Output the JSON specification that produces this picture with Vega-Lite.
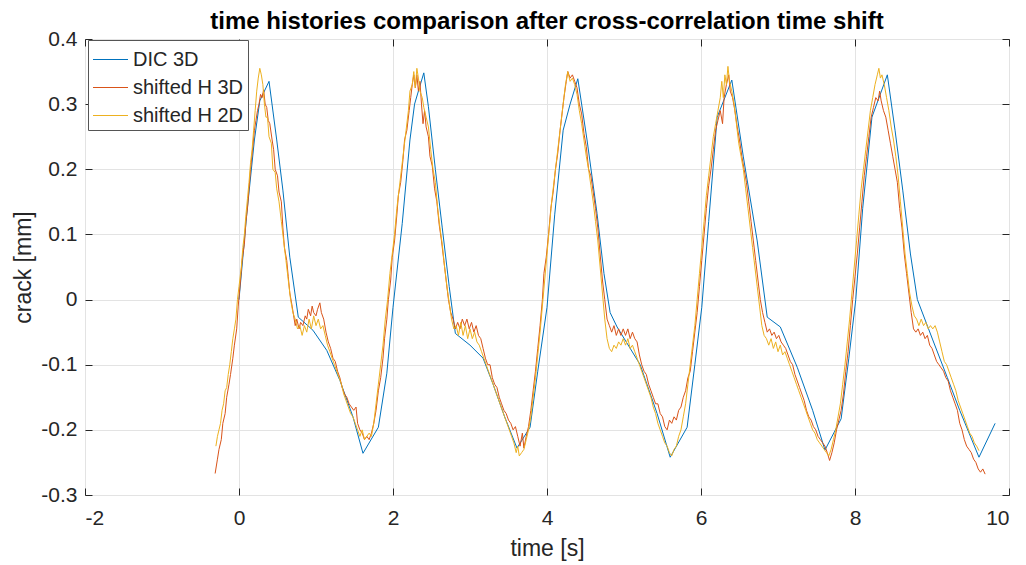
{
"$schema":"https://vega.github.io/schema/vega-lite/v6.json",
"width":924,"height":456,
"autosize":{"type":"none"},
"padding":{"left":85,"top":39,"right":17,"bottom":70},
"background":"white",
"title":{"text":"time histories comparison after cross-correlation time shift","fontSize":24,"fontWeight":"bold","font":"Liberation Sans","color":"#000000","anchor":"middle","offset":6,"dy":12},
"datasets":{
"dic":[{"t":0,"v":0},{"t":0.1,"v":0.13},{"t":0.2,"v":0.245},{"t":0.27,"v":0.305},{"t":0.39,"v":0.335},{"t":0.49,"v":0.245},{"t":0.57,"v":0.168},{"t":0.66,"v":0.065},{"t":0.77,"v":-0.027},{"t":0.96,"v":-0.047},{"t":1.14,"v":-0.078},{"t":1.31,"v":-0.124},{"t":1.48,"v":-0.18},{"t":1.61,"v":-0.236},{"t":1.81,"v":-0.196},{"t":1.92,"v":-0.113},{"t":2.0,"v":-0.012},{"t":2.12,"v":0.117},{"t":2.22,"v":0.245},{"t":2.28,"v":0.3},{"t":2.4,"v":0.348},{"t":2.46,"v":0.296},{"t":2.55,"v":0.2},{"t":2.64,"v":0.11},{"t":2.73,"v":0.02},{"t":2.81,"v":-0.052},{"t":3.0,"v":-0.07},{"t":3.17,"v":-0.09},{"t":3.3,"v":-0.13},{"t":3.45,"v":-0.18},{"t":3.61,"v":-0.228},{"t":3.78,"v":-0.196},{"t":3.88,"v":-0.11},{"t":4.0,"v":-0.012},{"t":4.1,"v":0.13},{"t":4.21,"v":0.26},{"t":4.3,"v":0.3},{"t":4.4,"v":0.339},{"t":4.52,"v":0.245},{"t":4.65,"v":0.132},{"t":4.74,"v":0.04},{"t":4.82,"v":-0.02},{"t":4.91,"v":-0.042},{"t":5.21,"v":-0.1},{"t":5.43,"v":-0.175},{"t":5.6,"v":-0.242},{"t":5.82,"v":-0.196},{"t":5.92,"v":-0.1},{"t":6.01,"v":-0.012},{"t":6.1,"v":0.12},{"t":6.21,"v":0.28},{"t":6.4,"v":0.337},{"t":6.55,"v":0.219},{"t":6.73,"v":0.09},{"t":6.86,"v":-0.027},{"t":7.03,"v":-0.042},{"t":7.25,"v":-0.104},{"t":7.45,"v":-0.17},{"t":7.61,"v":-0.231},{"t":7.82,"v":-0.183},{"t":7.92,"v":-0.09},{"t":8.01,"v":0.0},{"t":8.1,"v":0.14},{"t":8.22,"v":0.28},{"t":8.42,"v":0.345},{"t":8.52,"v":0.26},{"t":8.62,"v":0.168},{"t":8.72,"v":0.07},{"t":8.81,"v":0.0},{"t":9.01,"v":-0.062},{"t":9.2,"v":-0.12},{"t":9.36,"v":-0.17},{"t":9.61,"v":-0.242},{"t":9.82,"v":-0.19}],
"h3":[{"t":-0.31,"v":-0.267},{"t":-0.28,"v":-0.245},{"t":-0.26,"v":-0.23},{"t":-0.23,"v":-0.215},{"t":-0.21,"v":-0.19},{"t":-0.18,"v":-0.175},{"t":-0.16,"v":-0.15},{"t":-0.13,"v":-0.13},{"t":-0.11,"v":-0.115},{"t":-0.08,"v":-0.09},{"t":-0.06,"v":-0.07},{"t":-0.03,"v":-0.045},{"t":-0.01,"v":-0.01},{"t":0.02,"v":0.03},{"t":0.04,"v":0.06},{"t":0.07,"v":0.085},{"t":0.09,"v":0.12},{"t":0.11,"v":0.14},{"t":0.13,"v":0.17},{"t":0.15,"v":0.2},{"t":0.18,"v":0.235},{"t":0.2,"v":0.26},{"t":0.22,"v":0.275},{"t":0.24,"v":0.29},{"t":0.26,"v":0.3},{"t":0.28,"v":0.315},{"t":0.3,"v":0.31},{"t":0.32,"v":0.322},{"t":0.34,"v":0.3},{"t":0.36,"v":0.295},{"t":0.38,"v":0.275},{"t":0.4,"v":0.27},{"t":0.43,"v":0.245},{"t":0.45,"v":0.23},{"t":0.47,"v":0.2},{"t":0.5,"v":0.19},{"t":0.52,"v":0.165},{"t":0.55,"v":0.15},{"t":0.57,"v":0.11},{"t":0.59,"v":0.08},{"t":0.62,"v":0.06},{"t":0.64,"v":0.035},{"t":0.66,"v":0.01},{"t":0.69,"v":-0.01},{"t":0.71,"v":-0.025},{"t":0.73,"v":-0.04},{"t":0.75,"v":-0.03},{"t":0.78,"v":-0.045},{"t":0.8,"v":-0.035},{"t":0.83,"v":-0.04},{"t":0.86,"v":-0.025},{"t":0.88,"v":-0.03},{"t":0.9,"v":-0.015},{"t":0.93,"v":-0.025},{"t":0.95,"v":-0.01},{"t":0.97,"v":-0.02},{"t":1.0,"v":-0.025},{"t":1.02,"v":-0.015},{"t":1.05,"v":-0.005},{"t":1.07,"v":-0.02},{"t":1.1,"v":-0.03},{"t":1.13,"v":-0.05},{"t":1.16,"v":-0.065},{"t":1.19,"v":-0.075},{"t":1.22,"v":-0.09},{"t":1.25,"v":-0.095},{"t":1.28,"v":-0.11},{"t":1.31,"v":-0.12},{"t":1.34,"v":-0.135},{"t":1.37,"v":-0.145},{"t":1.4,"v":-0.15},{"t":1.43,"v":-0.16},{"t":1.46,"v":-0.165},{"t":1.49,"v":-0.17},{"t":1.52,"v":-0.165},{"t":1.54,"v":-0.19},{"t":1.57,"v":-0.2},{"t":1.6,"v":-0.205},{"t":1.63,"v":-0.215},{"t":1.66,"v":-0.21},{"t":1.69,"v":-0.215},{"t":1.72,"v":-0.205},{"t":1.75,"v":-0.19},{"t":1.78,"v":-0.17},{"t":1.81,"v":-0.14},{"t":1.84,"v":-0.12},{"t":1.87,"v":-0.09},{"t":1.89,"v":-0.06},{"t":1.92,"v":-0.03},{"t":1.94,"v":0.0},{"t":1.97,"v":0.03},{"t":1.99,"v":0.065},{"t":2.02,"v":0.09},{"t":2.05,"v":0.13},{"t":2.07,"v":0.16},{"t":2.1,"v":0.18},{"t":2.13,"v":0.215},{"t":2.15,"v":0.245},{"t":2.18,"v":0.26},{"t":2.21,"v":0.29},{"t":2.23,"v":0.31},{"t":2.25,"v":0.33},{"t":2.27,"v":0.345},{"t":2.29,"v":0.325},{"t":2.31,"v":0.345},{"t":2.33,"v":0.32},{"t":2.35,"v":0.335},{"t":2.37,"v":0.3},{"t":2.39,"v":0.27},{"t":2.41,"v":0.29},{"t":2.43,"v":0.265},{"t":2.46,"v":0.25},{"t":2.48,"v":0.22},{"t":2.51,"v":0.205},{"t":2.54,"v":0.17},{"t":2.57,"v":0.15},{"t":2.6,"v":0.115},{"t":2.63,"v":0.09},{"t":2.66,"v":0.06},{"t":2.69,"v":0.03},{"t":2.72,"v":0.0},{"t":2.75,"v":-0.02},{"t":2.78,"v":-0.03},{"t":2.81,"v":-0.045},{"t":2.84,"v":-0.035},{"t":2.87,"v":-0.045},{"t":2.9,"v":-0.03},{"t":2.93,"v":-0.04},{"t":2.96,"v":-0.03},{"t":2.99,"v":-0.045},{"t":3.02,"v":-0.035},{"t":3.05,"v":-0.05},{"t":3.08,"v":-0.04},{"t":3.11,"v":-0.055},{"t":3.14,"v":-0.06},{"t":3.17,"v":-0.075},{"t":3.2,"v":-0.09},{"t":3.23,"v":-0.1},{"t":3.26,"v":-0.1},{"t":3.29,"v":-0.12},{"t":3.32,"v":-0.13},{"t":3.35,"v":-0.135},{"t":3.38,"v":-0.15},{"t":3.41,"v":-0.16},{"t":3.44,"v":-0.17},{"t":3.47,"v":-0.175},{"t":3.5,"v":-0.185},{"t":3.53,"v":-0.19},{"t":3.56,"v":-0.2},{"t":3.59,"v":-0.195},{"t":3.62,"v":-0.21},{"t":3.65,"v":-0.225},{"t":3.68,"v":-0.205},{"t":3.7,"v":-0.228},{"t":3.73,"v":-0.21},{"t":3.76,"v":-0.195},{"t":3.79,"v":-0.17},{"t":3.82,"v":-0.14},{"t":3.85,"v":-0.11},{"t":3.88,"v":-0.075},{"t":3.91,"v":-0.04},{"t":3.94,"v":0.0},{"t":3.96,"v":0.04},{"t":3.99,"v":0.065},{"t":4.02,"v":0.1},{"t":4.05,"v":0.14},{"t":4.08,"v":0.165},{"t":4.11,"v":0.2},{"t":4.14,"v":0.225},{"t":4.17,"v":0.26},{"t":4.2,"v":0.29},{"t":4.22,"v":0.31},{"t":4.25,"v":0.335},{"t":4.27,"v":0.35},{"t":4.3,"v":0.34},{"t":4.33,"v":0.345},{"t":4.36,"v":0.335},{"t":4.39,"v":0.325},{"t":4.42,"v":0.3},{"t":4.45,"v":0.285},{"t":4.48,"v":0.255},{"t":4.51,"v":0.235},{"t":4.54,"v":0.2},{"t":4.57,"v":0.19},{"t":4.6,"v":0.165},{"t":4.63,"v":0.14},{"t":4.66,"v":0.11},{"t":4.69,"v":0.07},{"t":4.72,"v":0.03},{"t":4.75,"v":0.0},{"t":4.78,"v":-0.03},{"t":4.81,"v":-0.04},{"t":4.84,"v":-0.05},{"t":4.87,"v":-0.04},{"t":4.9,"v":-0.055},{"t":4.93,"v":-0.045},{"t":4.96,"v":-0.055},{"t":4.99,"v":-0.045},{"t":5.02,"v":-0.055},{"t":5.05,"v":-0.045},{"t":5.08,"v":-0.06},{"t":5.11,"v":-0.05},{"t":5.14,"v":-0.06},{"t":5.17,"v":-0.065},{"t":5.2,"v":-0.085},{"t":5.23,"v":-0.1},{"t":5.26,"v":-0.11},{"t":5.29,"v":-0.115},{"t":5.32,"v":-0.13},{"t":5.35,"v":-0.14},{"t":5.38,"v":-0.15},{"t":5.41,"v":-0.16},{"t":5.44,"v":-0.16},{"t":5.47,"v":-0.175},{"t":5.5,"v":-0.18},{"t":5.53,"v":-0.195},{"t":5.56,"v":-0.2},{"t":5.59,"v":-0.185},{"t":5.62,"v":-0.19},{"t":5.65,"v":-0.18},{"t":5.68,"v":-0.185},{"t":5.71,"v":-0.17},{"t":5.74,"v":-0.165},{"t":5.77,"v":-0.15},{"t":5.8,"v":-0.14},{"t":5.83,"v":-0.12},{"t":5.86,"v":-0.11},{"t":5.89,"v":-0.08},{"t":5.92,"v":-0.05},{"t":5.95,"v":-0.02},{"t":5.98,"v":0.02},{"t":6.01,"v":0.06},{"t":6.04,"v":0.1},{"t":6.07,"v":0.14},{"t":6.1,"v":0.175},{"t":6.13,"v":0.2},{"t":6.16,"v":0.23},{"t":6.19,"v":0.26},{"t":6.22,"v":0.275},{"t":6.25,"v":0.29},{"t":6.28,"v":0.27},{"t":6.3,"v":0.31},{"t":6.33,"v":0.33},{"t":6.36,"v":0.345},{"t":6.38,"v":0.32},{"t":6.41,"v":0.31},{"t":6.44,"v":0.29},{"t":6.47,"v":0.265},{"t":6.5,"v":0.245},{"t":6.53,"v":0.22},{"t":6.56,"v":0.2},{"t":6.59,"v":0.18},{"t":6.62,"v":0.15},{"t":6.65,"v":0.12},{"t":6.68,"v":0.09},{"t":6.71,"v":0.06},{"t":6.74,"v":0.03},{"t":6.77,"v":0.0},{"t":6.8,"v":-0.02},{"t":6.83,"v":-0.035},{"t":6.86,"v":-0.05},{"t":6.89,"v":-0.045},{"t":6.92,"v":-0.055},{"t":6.95,"v":-0.05},{"t":6.98,"v":-0.06},{"t":7.01,"v":-0.055},{"t":7.04,"v":-0.065},{"t":7.07,"v":-0.07},{"t":7.1,"v":-0.075},{"t":7.13,"v":-0.085},{"t":7.16,"v":-0.095},{"t":7.19,"v":-0.1},{"t":7.22,"v":-0.115},{"t":7.25,"v":-0.125},{"t":7.28,"v":-0.135},{"t":7.31,"v":-0.145},{"t":7.34,"v":-0.155},{"t":7.37,"v":-0.17},{"t":7.4,"v":-0.18},{"t":7.43,"v":-0.185},{"t":7.46,"v":-0.195},{"t":7.49,"v":-0.2},{"t":7.52,"v":-0.21},{"t":7.55,"v":-0.215},{"t":7.58,"v":-0.22},{"t":7.61,"v":-0.225},{"t":7.64,"v":-0.235},{"t":7.67,"v":-0.247},{"t":7.7,"v":-0.235},{"t":7.73,"v":-0.22},{"t":7.76,"v":-0.2},{"t":7.79,"v":-0.185},{"t":7.82,"v":-0.17},{"t":7.85,"v":-0.145},{"t":7.88,"v":-0.11},{"t":7.91,"v":-0.08},{"t":7.94,"v":-0.04},{"t":7.97,"v":0.0},{"t":8.0,"v":0.035},{"t":8.03,"v":0.07},{"t":8.06,"v":0.11},{"t":8.09,"v":0.15},{"t":8.12,"v":0.19},{"t":8.15,"v":0.22},{"t":8.18,"v":0.25},{"t":8.21,"v":0.28},{"t":8.24,"v":0.295},{"t":8.27,"v":0.31},{"t":8.3,"v":0.305},{"t":8.32,"v":0.32},{"t":8.34,"v":0.305},{"t":8.37,"v":0.29},{"t":8.4,"v":0.28},{"t":8.43,"v":0.26},{"t":8.46,"v":0.24},{"t":8.49,"v":0.22},{"t":8.52,"v":0.2},{"t":8.55,"v":0.18},{"t":8.58,"v":0.14},{"t":8.61,"v":0.11},{"t":8.64,"v":0.07},{"t":8.67,"v":0.04},{"t":8.7,"v":0.01},{"t":8.73,"v":-0.02},{"t":8.76,"v":-0.045},{"t":8.79,"v":-0.05},{"t":8.82,"v":-0.045},{"t":8.85,"v":-0.055},{"t":8.88,"v":-0.05},{"t":8.91,"v":-0.06},{"t":8.94,"v":-0.055},{"t":8.97,"v":-0.07},{"t":9.0,"v":-0.075},{"t":9.03,"v":-0.085},{"t":9.06,"v":-0.095},{"t":9.09,"v":-0.1},{"t":9.12,"v":-0.105},{"t":9.15,"v":-0.11},{"t":9.18,"v":-0.12},{"t":9.21,"v":-0.125},{"t":9.24,"v":-0.14},{"t":9.27,"v":-0.15},{"t":9.3,"v":-0.16},{"t":9.33,"v":-0.17},{"t":9.36,"v":-0.19},{"t":9.39,"v":-0.2},{"t":9.42,"v":-0.215},{"t":9.45,"v":-0.225},{"t":9.48,"v":-0.23},{"t":9.51,"v":-0.235},{"t":9.54,"v":-0.245},{"t":9.57,"v":-0.25},{"t":9.6,"v":-0.26},{"t":9.63,"v":-0.265},{"t":9.66,"v":-0.26},{"t":9.69,"v":-0.268}],
"h2":[{"t":-0.3,"v":-0.225},{"t":-0.28,"v":-0.21},{"t":-0.26,"v":-0.2},{"t":-0.24,"v":-0.19},{"t":-0.22,"v":-0.17},{"t":-0.2,"v":-0.16},{"t":-0.18,"v":-0.14},{"t":-0.16,"v":-0.135},{"t":-0.14,"v":-0.115},{"t":-0.12,"v":-0.1},{"t":-0.1,"v":-0.08},{"t":-0.08,"v":-0.06},{"t":-0.06,"v":-0.045},{"t":-0.04,"v":-0.03},{"t":-0.02,"v":0.0},{"t":0.0,"v":0.02},{"t":0.03,"v":0.05},{"t":0.05,"v":0.08},{"t":0.07,"v":0.1},{"t":0.09,"v":0.13},{"t":0.11,"v":0.155},{"t":0.13,"v":0.18},{"t":0.15,"v":0.21},{"t":0.17,"v":0.23},{"t":0.19,"v":0.26},{"t":0.21,"v":0.29},{"t":0.23,"v":0.32},{"t":0.25,"v":0.34},{"t":0.27,"v":0.355},{"t":0.29,"v":0.345},{"t":0.31,"v":0.33},{"t":0.33,"v":0.3},{"t":0.35,"v":0.28},{"t":0.37,"v":0.28},{"t":0.39,"v":0.25},{"t":0.42,"v":0.24},{"t":0.44,"v":0.2},{"t":0.47,"v":0.195},{"t":0.49,"v":0.17},{"t":0.52,"v":0.15},{"t":0.55,"v":0.12},{"t":0.58,"v":0.09},{"t":0.61,"v":0.06},{"t":0.64,"v":0.03},{"t":0.67,"v":0.0},{"t":0.7,"v":-0.02},{"t":0.73,"v":-0.03},{"t":0.76,"v":-0.045},{"t":0.79,"v":-0.04},{"t":0.82,"v":-0.055},{"t":0.85,"v":-0.04},{"t":0.88,"v":-0.05},{"t":0.91,"v":-0.03},{"t":0.94,"v":-0.045},{"t":0.97,"v":-0.025},{"t":1.0,"v":-0.04},{"t":1.03,"v":-0.03},{"t":1.06,"v":-0.045},{"t":1.09,"v":-0.04},{"t":1.12,"v":-0.055},{"t":1.15,"v":-0.07},{"t":1.18,"v":-0.08},{"t":1.21,"v":-0.09},{"t":1.24,"v":-0.1},{"t":1.27,"v":-0.11},{"t":1.3,"v":-0.12},{"t":1.33,"v":-0.13},{"t":1.36,"v":-0.145},{"t":1.39,"v":-0.155},{"t":1.42,"v":-0.165},{"t":1.45,"v":-0.175},{"t":1.48,"v":-0.18},{"t":1.51,"v":-0.19},{"t":1.54,"v":-0.2},{"t":1.57,"v":-0.21},{"t":1.6,"v":-0.2},{"t":1.63,"v":-0.215},{"t":1.66,"v":-0.21},{"t":1.69,"v":-0.205},{"t":1.72,"v":-0.21},{"t":1.75,"v":-0.19},{"t":1.78,"v":-0.16},{"t":1.81,"v":-0.13},{"t":1.84,"v":-0.1},{"t":1.87,"v":-0.07},{"t":1.9,"v":-0.03},{"t":1.93,"v":0.0},{"t":1.96,"v":0.04},{"t":1.99,"v":0.07},{"t":2.02,"v":0.1},{"t":2.05,"v":0.14},{"t":2.08,"v":0.17},{"t":2.11,"v":0.2},{"t":2.14,"v":0.23},{"t":2.17,"v":0.26},{"t":2.2,"v":0.29},{"t":2.22,"v":0.32},{"t":2.25,"v":0.33},{"t":2.27,"v":0.35},{"t":2.29,"v":0.325},{"t":2.31,"v":0.355},{"t":2.33,"v":0.34},{"t":2.35,"v":0.32},{"t":2.38,"v":0.31},{"t":2.4,"v":0.295},{"t":2.43,"v":0.28},{"t":2.46,"v":0.265},{"t":2.49,"v":0.23},{"t":2.52,"v":0.2},{"t":2.55,"v":0.18},{"t":2.58,"v":0.14},{"t":2.61,"v":0.11},{"t":2.64,"v":0.085},{"t":2.67,"v":0.05},{"t":2.7,"v":0.02},{"t":2.73,"v":-0.005},{"t":2.76,"v":-0.03},{"t":2.79,"v":-0.045},{"t":2.82,"v":-0.04},{"t":2.85,"v":-0.055},{"t":2.88,"v":-0.035},{"t":2.91,"v":-0.055},{"t":2.94,"v":-0.04},{"t":2.97,"v":-0.06},{"t":3.0,"v":-0.045},{"t":3.03,"v":-0.06},{"t":3.06,"v":-0.05},{"t":3.09,"v":-0.065},{"t":3.12,"v":-0.07},{"t":3.15,"v":-0.08},{"t":3.18,"v":-0.09},{"t":3.21,"v":-0.1},{"t":3.24,"v":-0.11},{"t":3.27,"v":-0.12},{"t":3.3,"v":-0.13},{"t":3.33,"v":-0.14},{"t":3.36,"v":-0.15},{"t":3.39,"v":-0.16},{"t":3.42,"v":-0.17},{"t":3.45,"v":-0.18},{"t":3.48,"v":-0.19},{"t":3.51,"v":-0.2},{"t":3.54,"v":-0.21},{"t":3.57,"v":-0.22},{"t":3.6,"v":-0.235},{"t":3.62,"v":-0.225},{"t":3.64,"v":-0.24},{"t":3.67,"v":-0.235},{"t":3.7,"v":-0.23},{"t":3.73,"v":-0.215},{"t":3.76,"v":-0.2},{"t":3.79,"v":-0.18},{"t":3.82,"v":-0.15},{"t":3.85,"v":-0.12},{"t":3.88,"v":-0.085},{"t":3.91,"v":-0.05},{"t":3.94,"v":-0.01},{"t":3.97,"v":0.03},{"t":4.0,"v":0.07},{"t":4.03,"v":0.11},{"t":4.06,"v":0.15},{"t":4.09,"v":0.18},{"t":4.12,"v":0.21},{"t":4.15,"v":0.24},{"t":4.18,"v":0.27},{"t":4.21,"v":0.3},{"t":4.24,"v":0.33},{"t":4.27,"v":0.35},{"t":4.3,"v":0.335},{"t":4.33,"v":0.34},{"t":4.36,"v":0.33},{"t":4.39,"v":0.315},{"t":4.42,"v":0.29},{"t":4.45,"v":0.27},{"t":4.48,"v":0.245},{"t":4.51,"v":0.22},{"t":4.54,"v":0.2},{"t":4.57,"v":0.175},{"t":4.6,"v":0.15},{"t":4.63,"v":0.12},{"t":4.66,"v":0.09},{"t":4.69,"v":0.05},{"t":4.72,"v":0.01},{"t":4.75,"v":-0.03},{"t":4.78,"v":-0.06},{"t":4.81,"v":-0.075},{"t":4.84,"v":-0.08},{"t":4.87,"v":-0.07},{"t":4.9,"v":-0.075},{"t":4.93,"v":-0.065},{"t":4.96,"v":-0.07},{"t":4.99,"v":-0.06},{"t":5.02,"v":-0.07},{"t":5.05,"v":-0.06},{"t":5.08,"v":-0.075},{"t":5.11,"v":-0.07},{"t":5.14,"v":-0.08},{"t":5.17,"v":-0.09},{"t":5.2,"v":-0.1},{"t":5.23,"v":-0.11},{"t":5.26,"v":-0.12},{"t":5.29,"v":-0.13},{"t":5.32,"v":-0.14},{"t":5.35,"v":-0.15},{"t":5.38,"v":-0.165},{"t":5.41,"v":-0.175},{"t":5.44,"v":-0.19},{"t":5.47,"v":-0.2},{"t":5.5,"v":-0.21},{"t":5.53,"v":-0.22},{"t":5.56,"v":-0.225},{"t":5.59,"v":-0.235},{"t":5.62,"v":-0.24},{"t":5.65,"v":-0.23},{"t":5.68,"v":-0.225},{"t":5.71,"v":-0.21},{"t":5.74,"v":-0.2},{"t":5.77,"v":-0.18},{"t":5.8,"v":-0.16},{"t":5.83,"v":-0.13},{"t":5.86,"v":-0.1},{"t":5.89,"v":-0.07},{"t":5.92,"v":-0.04},{"t":5.95,"v":0.0},{"t":5.98,"v":0.04},{"t":6.01,"v":0.08},{"t":6.04,"v":0.12},{"t":6.07,"v":0.16},{"t":6.1,"v":0.19},{"t":6.13,"v":0.22},{"t":6.16,"v":0.25},{"t":6.19,"v":0.27},{"t":6.22,"v":0.29},{"t":6.25,"v":0.31},{"t":6.27,"v":0.335},{"t":6.29,"v":0.31},{"t":6.31,"v":0.345},{"t":6.33,"v":0.33},{"t":6.35,"v":0.358},{"t":6.37,"v":0.335},{"t":6.4,"v":0.32},{"t":6.43,"v":0.3},{"t":6.46,"v":0.27},{"t":6.49,"v":0.24},{"t":6.52,"v":0.22},{"t":6.55,"v":0.2},{"t":6.58,"v":0.17},{"t":6.61,"v":0.14},{"t":6.64,"v":0.11},{"t":6.67,"v":0.08},{"t":6.7,"v":0.05},{"t":6.73,"v":0.02},{"t":6.76,"v":-0.01},{"t":6.79,"v":-0.04},{"t":6.82,"v":-0.055},{"t":6.85,"v":-0.06},{"t":6.88,"v":-0.07},{"t":6.91,"v":-0.06},{"t":6.94,"v":-0.075},{"t":6.97,"v":-0.065},{"t":7.0,"v":-0.08},{"t":7.03,"v":-0.07},{"t":7.06,"v":-0.085},{"t":7.09,"v":-0.08},{"t":7.12,"v":-0.09},{"t":7.15,"v":-0.1},{"t":7.18,"v":-0.11},{"t":7.21,"v":-0.12},{"t":7.24,"v":-0.13},{"t":7.27,"v":-0.14},{"t":7.3,"v":-0.15},{"t":7.33,"v":-0.16},{"t":7.36,"v":-0.17},{"t":7.39,"v":-0.18},{"t":7.42,"v":-0.19},{"t":7.45,"v":-0.2},{"t":7.48,"v":-0.205},{"t":7.51,"v":-0.215},{"t":7.54,"v":-0.22},{"t":7.57,"v":-0.225},{"t":7.6,"v":-0.23},{"t":7.63,"v":-0.235},{"t":7.66,"v":-0.24},{"t":7.69,"v":-0.23},{"t":7.72,"v":-0.215},{"t":7.75,"v":-0.2},{"t":7.78,"v":-0.18},{"t":7.81,"v":-0.16},{"t":7.84,"v":-0.13},{"t":7.87,"v":-0.1},{"t":7.9,"v":-0.065},{"t":7.93,"v":-0.03},{"t":7.96,"v":0.01},{"t":7.99,"v":0.05},{"t":8.02,"v":0.09},{"t":8.05,"v":0.13},{"t":8.08,"v":0.17},{"t":8.11,"v":0.2},{"t":8.14,"v":0.23},{"t":8.17,"v":0.26},{"t":8.2,"v":0.29},{"t":8.23,"v":0.31},{"t":8.26,"v":0.33},{"t":8.29,"v":0.345},{"t":8.31,"v":0.355},{"t":8.33,"v":0.34},{"t":8.35,"v":0.345},{"t":8.38,"v":0.33},{"t":8.41,"v":0.31},{"t":8.44,"v":0.29},{"t":8.47,"v":0.265},{"t":8.5,"v":0.245},{"t":8.53,"v":0.22},{"t":8.56,"v":0.19},{"t":8.59,"v":0.15},{"t":8.62,"v":0.11},{"t":8.65,"v":0.07},{"t":8.68,"v":0.04},{"t":8.71,"v":0.01},{"t":8.74,"v":-0.01},{"t":8.77,"v":-0.025},{"t":8.8,"v":-0.03},{"t":8.83,"v":-0.04},{"t":8.86,"v":-0.03},{"t":8.89,"v":-0.04},{"t":8.92,"v":-0.035},{"t":8.95,"v":-0.045},{"t":8.98,"v":-0.04},{"t":9.01,"v":-0.045},{"t":9.04,"v":-0.04},{"t":9.07,"v":-0.05},{"t":9.1,"v":-0.065},{"t":9.13,"v":-0.08},{"t":9.16,"v":-0.095},{"t":9.19,"v":-0.1},{"t":9.22,"v":-0.11},{"t":9.25,"v":-0.12},{"t":9.28,"v":-0.13},{"t":9.31,"v":-0.14},{"t":9.34,"v":-0.155},{"t":9.37,"v":-0.165},{"t":9.4,"v":-0.175},{"t":9.43,"v":-0.185},{"t":9.46,"v":-0.195},{"t":9.49,"v":-0.205},{"t":9.52,"v":-0.21},{"t":9.55,"v":-0.22},{"t":9.58,"v":-0.225},{"t":9.61,"v":-0.232}]
},
"layer":[
{"data":{"name":"dic"},"mark":{"type":"line","strokeWidth":1,"clip":true},
 "encoding":{
  "x":{"field":"t","type":"quantitative","scale":{"domain":[-2,10],"nice":false,"zero":false},
       "axis":{"orient":"bottom","title":"time [s]","values":[-2,0,2,4,6,8,10],"labelExpr":"toString(datum.value)","grid":true,"titleY":53,"titleBaseline":"middle"}},
  "y":{"field":"v","type":"quantitative","scale":{"domain":[-0.3,0.4],"nice":false,"zero":false},
       "axis":{"orient":"left","title":"crack [mm]","values":[-0.3,-0.2,-0.1,0,0.1,0.2,0.3,0.4],"labelExpr":"toString(datum.value)","grid":true,"titleX":-62,"titleY":228,"titleBaseline":"middle","titleAngle":-90}},
  "color":{"datum":"DIC 3D","type":"nominal","scale":{"domain":["DIC 3D","shifted H 3D","shifted H 2D"],"range":["#0072BD","#D95319","#EDB120"]},
    "legend":{"orient":"none","legendX":3,"legendY":1,"title":" ","titleFontSize":5,"titlePadding":0,"fillColor":"white","strokeColor":"#555555","padding":4,"symbolType":"M-1.75,0H1.75","symbolSize":400,"symbolStrokeWidth":1,"symbolOffset":8,"labelFontSize":20,"labelColor":"#262626","labelFont":"Liberation Sans","rowPadding":7,"labelOffset":12,"zindex":2}}
 }},
{"data":{"name":"h3"},"mark":{"type":"line","strokeWidth":1,"clip":true},
 "encoding":{
  "x":{"field":"t","type":"quantitative","axis":{"orient":"top","title":null,"labels":false,"grid":false,"values":[-2,0,2,4,6,8,10]}},
  "y":{"field":"v","type":"quantitative","axis":{"orient":"right","title":null,"labels":false,"grid":false,"values":[-0.3,-0.2,-0.1,0,0.1,0.2,0.3,0.4]}},
  "color":{"datum":"shifted H 3D","type":"nominal"}
 }},
{"data":{"name":"h2"},"mark":{"type":"line","strokeWidth":1,"clip":true},
 "encoding":{
  "x":{"field":"t","type":"quantitative","axis":null},
  "y":{"field":"v","type":"quantitative","axis":null},
  "color":{"datum":"shifted H 2D","type":"nominal"}
 }}
],
"resolve":{"axis":{"x":"independent","y":"independent"}},
"config":{
 "font":"Liberation Sans",
 "view":{"stroke":"#4d4d4d","strokeWidth":1},
 "axis":{"domain":false,"gridColor":"#e3e3e3","gridWidth":1,"tickColor":"#262626","tickSize":-7,"tickWidth":1,"labelFontSize":21,"labelColor":"#262626","labelFont":"Liberation Sans","labelPadding":19,"titleFontSize":23,"titleFont":"Liberation Sans","titleFontWeight":"normal","titleColor":"#262626"},
 "axisLeft":{"labelPadding":15}
}
}
